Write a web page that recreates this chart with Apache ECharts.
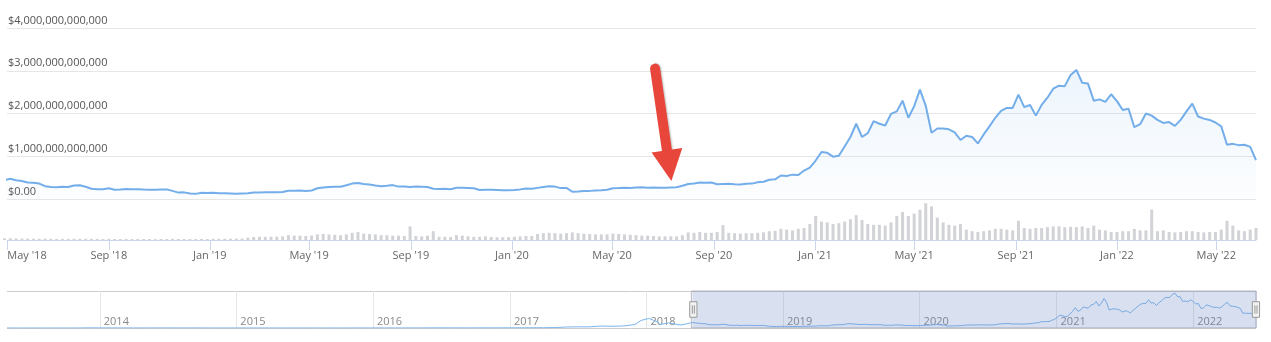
<!DOCTYPE html>
<html><head><meta charset="utf-8">
<script src="https://cdn.jsdelivr.net/npm/echarts@6/dist/echarts.min.js"></script>
<style>html,body{margin:0;padding:0;background:#fff}#c{width:1271px;height:342px}</style>
</head><body><div id="c"></div>
<script>
// ---- data (USD billions) ----
const histDates = ['2013-04-28','2013-06-01','2013-07-01','2013-08-01','2013-09-01','2013-10-01','2013-11-01','2013-12-01',
 '2014-01-01','2014-02-01','2014-03-01','2014-04-01','2014-05-01','2014-06-01','2014-07-01','2014-08-01','2014-09-01','2014-10-01','2014-11-01','2014-12-01',
 '2015-01-01','2015-02-01','2015-03-01','2015-04-01','2015-05-01','2015-06-01','2015-07-01','2015-08-01','2015-09-01','2015-10-01','2015-11-01','2015-12-01',
 '2016-01-01','2016-02-01','2016-03-01','2016-04-01','2016-05-01','2016-06-01','2016-07-01','2016-08-01','2016-09-01','2016-10-01','2016-11-01','2016-12-01',
 '2017-01-01','2017-02-01','2017-03-01','2017-04-01','2017-05-01','2017-06-01','2017-07-01','2017-08-01','2017-09-01','2017-10-01','2017-11-01','2017-12-01','2017-12-17',
 '2018-01-07','2018-02-01','2018-02-06','2018-03-01','2018-04-01','2018-04-14'];
const histCap = [1.6,1.3,1.1,1.2,1.6,1.7,2.6,13,
 10,10.5,7.5,6.5,5.5,8.5,8.5,8,6.8,5.5,4.8,5.4,
 4.4,3.5,3.6,3.5,3.4,3.4,3.9,4.2,3.5,3.6,5,5.7,
 7,6.6,7.6,7.6,8.3,11.5,12.6,11.5,10.8,11.2,12.3,13.5,
 17.7,17.5,21,24,39,86,103,100,170,150,180,300,650,
 830,520,300,440,260,330];

// weekly samples (Saturdays) starting 2018-04-28
const weekStart = '2018-04-28';
const capWeekly = [
 440,475,440,420,385,380,360,300,280,275, 285,280,315,320,285,240,230,230,250,215,
 220,235,230,228,222,218,215,225,225,190, 150,155,130,120,145,140,
 145,135,135,130,125,130,135,150,150,155, 158,160,165,195,195,198,185,200,250,270,
 280,285,285,320,360,375,350,340,315,300, 310,325,290,295,280,290,285,280,240,235,
 240,230,265,265,260,250,210,215,215,210, 205,205,
 210,225,245,240,260,280,300,290,255,260, 170,175,185,190,200,205,215,250,255,265,
 255,270,275,265,270,262,265,270,275,310, 350,365,385,380,385,345,350,355,345,340,
 355,360,390,405,450,460,550,540,570,560, 665,735,
 900,1100,1080,990,1010,1230,1450,1760,1450,1540, 1820,1760,1720,1990,2050,2300,1900,2170,2560,2180,
 1550,1650,1650,1630,1560,1380,1480,1450,1300,1510, 1700,1900,2060,2130,2130,2440,2150,2200,1950,2200,
 2370,2580,2650,2640,2900,3020,2720,2700,2300,2330, 2270,2450,
 2290,2080,2110,1680,1750,2000,1950,1850,1780,1800, 1710,1850,2050,2230,1930,1880,1850,1790,1700,1270,
 1290,1260,1270,1220,910];
const volWeekly = [
 20,22,20,18,17,16,15,16,15,14, 14,14,15,16,15,14,14,13,13,13,
 12,12,12,12,12,12,11,12,13,14, 13,12,12,12,13,13,
 15,15,16,16,17,18,30,38,40,40, 42,42,45,60,55,55,50,55,70,75,
 70,65,60,70,90,100,80,75,70,60, 60,55,55,50,170,50,45,55,110,40,
 40,38,60,55,45,40,40,45,38,35, 35,35,
 40,45,50,50,75,85,90,85,80,85, 95,85,80,75,70,70,70,80,75,70,
 65,60,55,55,50,45,45,45,45,60, 95,90,100,90,90,100,185,90,85,80,
 85,85,90,95,110,115,140,130,120,140, 150,200,
 300,230,220,200,210,230,260,310,250,200, 190,190,180,220,300,350,300,330,380,460,
 420,280,220,190,180,200,130,110,100,110, 120,140,140,130,120,240,150,140,150,150,
 160,170,170,160,165,160,170,150,180,130, 120,100,
 100,110,110,140,120,120,380,110,120,100, 95,100,110,110,100,95,100,100,130,240,
 180,120,110,130,150];

const xTickDates = ['2018-05-01','2018-09-01','2019-01-01','2019-05-01','2019-09-01','2020-01-01','2020-05-01',
 '2020-09-01','2021-01-01','2021-05-01','2021-09-01','2022-01-01','2022-05-01'];
const navYears = [2014,2015,2016,2017,2018,2019,2020,2021,2022];
const navRange = ['2013-04-28','2022-06-18'];
const viewRange = ['2018-05-01','2022-06-18'];
const arrowTail = ['2020-06-22', 3.05e12];
const arrowHead = ['2020-07-09', 0.78e12];

// ---- build ----
function d(s){const p=s.split('-').map(Number);return new Date(p[0],p[1]-1,p[2]).getTime();}
const ws = weekStart.split('-').map(Number);
const weekDates = capWeekly.map((_,i)=>new Date(ws[0],ws[1]-1,ws[2]+7*i).getTime());
const capData = histDates.map((s,i)=>[d(s),histCap[i]*1e9]).concat(weekDates.map((t,i)=>[t,capWeekly[i]*1e9]));
const volData = weekDates.map((t,i)=>[t,volWeekly[i]*1e9]);
const xTicks = xTickDates.map(d);
const yearTicks = navYears.map(y=>new Date(y,0,1).getTime());
const navMin = d(navRange[0]), navMax = d(navRange[1]);
const viewMin = d(viewRange[0]), viewMax = d(viewRange[1]);
const MONTHS = ['Jan','Feb','Mar','Apr','May','Jun','Jul','Aug','Sep','Oct','Nov','Dec'];
const FONT = 'Open Sans';
function xLabel(v){
  const dt=new Date(v);
  const s=MONTHS[dt.getMonth()]+" '"+String(dt.getFullYear()).slice(2);
  return Math.abs(v-xTicks[0])<1000 ? '{first|'+s+'}' : s;
}
const RED = '#e8463b';

const chart = echarts.init(document.getElementById('c'), null, {renderer:'canvas'});
chart.setOption({
  animation:false,
  textStyle:{fontFamily:FONT},
  grid:[
    {left:7,right:15,top:28,height:171,containLabel:false,outerBoundsMode:'none'},
    {left:7,right:15,top:200,height:40,containLabel:false,outerBoundsMode:'none'},
    {left:7,right:15,top:291,height:37,containLabel:false,outerBoundsMode:'none'}
  ],
  xAxis:[
    {type:'value',gridIndex:0,min:navMin,max:navMax,show:false,splitLine:{show:false}},
    {type:'value',gridIndex:1,min:navMin,max:navMax,
      axisLine:{show:true,lineStyle:{color:'#ccd6eb',width:1}},
      axisTick:{show:true,customValues:xTicks,length:10,lineStyle:{color:'#ccd6eb'}},
      axisLabel:{customValues:xTicks,formatter:xLabel,color:'#666',fontSize:11,fontFamily:FONT,margin:10,
        rich:{first:{padding:[0,0,0,40],color:'#666',fontSize:11,fontFamily:FONT}}},
      splitLine:{show:false}},
    {type:'value',gridIndex:2,min:navMin,max:navMax,
      axisLine:{show:false},
      axisTick:{show:true,customValues:yearTicks,inside:true,length:37,lineStyle:{color:'#e6e6e6'}},
      axisLabel:{customValues:yearTicks,inside:true,formatter:v=>String(new Date(v).getFullYear()),
        color:'#888',fontSize:11,fontFamily:FONT,align:'left',margin:1,padding:[0,0,0,4]},
      splitLine:{show:false}}
  ],
  yAxis:[
    {type:'value',gridIndex:0,min:0,max:4e12,interval:1e12,
      axisLine:{show:false},axisTick:{show:false},
      splitLine:{lineStyle:{color:'#e6e6e6'}},
      axisLabel:{inside:true,margin:1,verticalAlign:'bottom',color:'#555',fontSize:11,fontFamily:FONT,
        padding:[0,0,2,0],
        formatter:v=>v===0?'$0.00':'$'+v.toLocaleString('en-US')}},
    {type:'value',gridIndex:1,min:0,max:500e9,show:false,splitLine:{show:false}},
    {type:'value',gridIndex:2,min:0,max:3.2e12,interval:3.2e12,
      axisLine:{show:false},axisTick:{show:false},axisLabel:{show:false},
      splitLine:{lineStyle:{color:'#cccccc'}}}
  ],
  dataZoom:[{
    type:'slider',xAxisIndex:[0,1],filterMode:'none',
    startValue:viewMin,endValue:viewMax,
    left:7,right:15,top:291,height:37,
    backgroundColor:'rgba(0,0,0,0)',borderColor:'rgba(0,0,0,0)',
    fillerColor:'rgba(102,133,194,0.25)',
    showDataShadow:false,showDetail:false,brushSelect:false,
    moveHandleSize:0,moveHandleStyle:{opacity:0},
    dataBackground:{lineStyle:{opacity:0},areaStyle:{opacity:0}},
    selectedDataBackground:{lineStyle:{opacity:0},areaStyle:{opacity:0}},
    handleIcon:'path://M-3.5,-7.5h7v15h-7z M-1,-4v8 M1,-4v8',
    handleSize:'42%',
    handleStyle:{color:'#f2f2f2',borderColor:'#999999',borderWidth:1}
  }],
  series:[
    {type:'line',xAxisIndex:0,yAxisIndex:0,data:capData,symbol:'none',
      lineStyle:{color:'#74aeea',width:2},itemStyle:{color:'#74aeea'},
      areaStyle:{color:{type:'linear',x:0,y:0,x2:0,y2:1,colorStops:[
        {offset:0,color:'rgba(124,181,236,0.2)'},{offset:1,color:'rgba(124,181,236,0.03)'}]}},
      markLine:{silent:true,animation:false,
        symbol:['none','path://M0,10 L5,0 L10,10 Z'],symbolSize:31,
        label:{show:false},
        itemStyle:{color:RED},
        lineStyle:{color:RED,width:10,type:'solid',cap:'round',shadowBlur:2,shadowColor:'rgba(0,0,0,0.25)',shadowOffsetX:1},
        emphasis:{disabled:true},
        data:[[{coord:[d(arrowTail[0]),arrowTail[1]]},{coord:[d(arrowHead[0]),arrowHead[1]]}]]}},
    {type:'bar',xAxisIndex:1,yAxisIndex:1,data:volData,barWidth:3,
      itemStyle:{color:'#d2d3d7'}},
    {type:'line',xAxisIndex:2,yAxisIndex:2,data:capData,symbol:'none',
      lineStyle:{color:'#7cb5ec',width:1},areaStyle:{color:'rgba(124,181,236,0.05)'},
      markArea:{silent:true,itemStyle:{color:'rgba(0,0,0,0)',borderColor:'#bbbbbb',borderWidth:1},
        data:[[{xAxis:viewMin},{xAxis:viewMax}]]}}
  ]
});
</script>
</body></html>
